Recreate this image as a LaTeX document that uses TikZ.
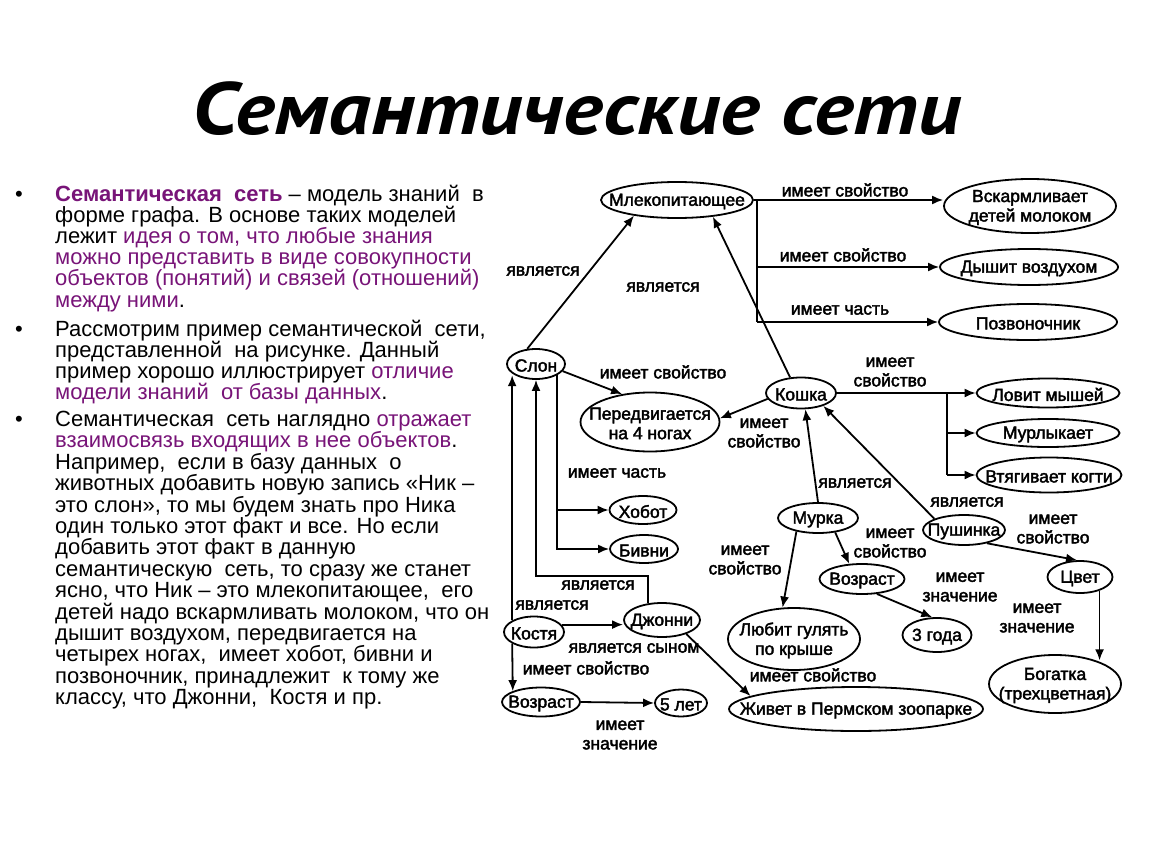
\documentclass[tikz,border=0pt]{standalone}
\usepackage{fontspec}
\setmainfont{Liberation Sans}
\newfontfamily\mytitlefont{PT Sans}
\newfontfamily\mydiagfont{Liberation Sans}[FakeBold=2.2]
\usetikzlibrary{shapes.geometric,arrows.meta,calc}
\definecolor{purp}{RGB}{120,20,120}
\newcommand{\mydiag}{\mydiagfont\fontsize{17.5}{19.5}\selectfont}
\newcommand{\mybody}{\fontsize{22}{21.4}\selectfont}
\begin{document}
\begin{tikzpicture}[x=1pt,y=-1pt,
  el/.style 2 args={draw,ellipse,line width=1.8pt,inner sep=0pt,minimum width=#1,minimum height=#2},
  lt/.style={font=\mydiag,align=center,inner sep=0pt,yshift=-1.5pt},
  lbl/.style={font=\mydiag,align=center,inner sep=0pt},
  con/.style={line width=1.8pt},
  arr/.style={con,-{Latex[length=11pt,width=9pt]}},
  ln/.style={anchor=base west,inner sep=0pt,font=\mybody},
  bul/.style={anchor=base west,inner sep=0pt,font=\mybody}]
\useasboundingbox[fill=white] (0,0) rectangle (1150,864);

% title
\node[anchor=base,inner sep=0pt,font={\mytitlefont\bfseries\itshape\fontsize{74}{74}\selectfont}] (title) at (577,135) {\scalebox{1.14}[1]{Семантические сети}};

% text paragraph 1
\node[bul] (b1) at (15,201) {•};
\node[ln] (t1) at (55,201) {\textcolor{purp}{\textbf{Семантическая\ \ сеть}} – модель знаний\ \ в};
\node[ln] (t2) at (55,222.2) {форме графа. В основе таких моделей};
\node[ln] (t3) at (55,243.4) {лежит \textcolor{purp}{идея о том, что любые знания}};
\node[ln] (t4) at (55,264.6) {\textcolor{purp}{можно представить в виде совокупности}};
\node[ln] (t5) at (55,285.8) {\textcolor{purp}{объектов (понятий) и связей (отношений)}};
\node[ln] (t6) at (55,307) {\textcolor{purp}{между ними}.};
% paragraph 2
\node[bul] (b2) at (15,336) {•};
\node[ln] (u1) at (55,336) {Рассмотрим пример семантической\ \ сети,};
\node[ln] (u2) at (55,357) {представленной\ \ на рисунке. Данный};
\node[ln] (u3) at (55,378) {пример хорошо иллюстрирует \textcolor{purp}{отличие}};
\node[ln] (u4) at (55,399) {\textcolor{purp}{модели знаний\ \ от базы данных}.};
% paragraph 3
\node[bul] (b3) at (15,426.5) {•};
\node[ln] (v1) at (55,426.5) {Семантическая\ \ сеть наглядно \textcolor{purp}{отражает}};
\node[ln] (v2) at (55,447.9) {\textcolor{purp}{взаимосвязь входящих в нее объектов}.};
\node[ln] (v3) at (55,469.3) {Например,\ \ если в базу данных\ \ о};
\node[ln] (v4) at (55,490.7) {животных добавить новую запись «Ник –};
\node[ln] (v5) at (55,512.1) {это слон», то мы будем знать про Ника};
\node[ln] (v6) at (55,533.5) {один только этот факт и все. Но если};
\node[ln] (v7) at (55,554.9) {добавить этот факт в данную};
\node[ln] (v8) at (55,576.3) {семантическую\ \ сеть, то сразу же станет};
\node[ln] (v9) at (55,597.7) {ясно, что Ник – это млекопитающее,\ \ его};
\node[ln] (v10) at (55,619.1) {детей надо вскармливать молоком, что он};
\node[ln] (v11) at (55,640.5) {дышит воздухом, передвигается на};
\node[ln] (v12) at (55,661.9) {четырех ногах,\ \ имеет хобот, бивни и};
\node[ln] (v13) at (55,683.3) {позвоночник, принадлежит\ \ к тому же};
\node[ln] (v14) at (55,704.7) {классу, что Джонни,\ \ Костя и пр.};

% diagram nodes (ellipses with their text as centred labels)
\node[el={152pt}{36pt},label={[lt]center:Млекопитающее}] (mlek) at (677,200) {};
\node[el={172pt}{54pt},label={[lt]center:Вскармливает\\детей молоком}] (vsk) at (1030,206) {};
\node[el={178pt}{36pt},label={[lt]center:Дышит воздухом}] (dysh) at (1029,267) {};
\node[el={178pt}{36pt},label={[lt]center:Позвоночник}] (pozv) at (1028,322) {};
\node[el={58pt}{30pt},label={[lt]center:Слон}] (slon) at (536,364) {};
\node[el={139pt}{59pt},label={[lt]center:Передвигается\\на 4 ногах}] (pered) at (650,422) {};
\node[el={70pt}{31pt},label={[lt]center:Кошка}] (koshka) at (801,393) {};
\node[el={143pt}{29pt},label={[lt]center:Ловит мышей}] (lovit) at (1048,393) {};
\node[el={143pt}{28pt},label={[lt]center:Мурлыкает}] (murl) at (1048,433) {};
\node[el={145pt}{35pt},label={[lt]center:Втягивает когти}] (vtyag) at (1049,475) {};
\node[el={67pt}{28pt},label={[lt]center:Хобот}] (hobot) at (643,510) {};
\node[el={68pt}{28pt},label={[lt]center:Бивни}] (bivni) at (644,549) {};
\node[el={80pt}{30pt},label={[lt]center:Мурка}] (murka) at (818,518) {};
\node[el={82pt}{30pt},label={[lt]center:Пушинка}] (push) at (964,530) {};
\node[el={85pt}{30pt},label={[lt]center:Возраст}] (vozr2) at (862,579) {};
\node[el={65pt}{32pt},label={[lt]center:Цвет}] (cvet) at (1080,577) {};
\node[el={69pt}{34pt},label={[lt]center:3 года}] (tri) at (937,635) {};
\node[el={132pt}{62pt},label={[lt]center:Любит гулять\\по крыше}] (lyub) at (794,639) {};
\node[el={132pt}{58pt},label={[lt]center:Богатка\\(трехцветная)}] (bog) at (1055,684) {};
\node[el={76pt}{34pt},label={[lt]center:Джонни}] (dzh) at (662,620) {};
\node[el={60pt}{31pt},label={[lt]center:Костя}] (kost) at (534,632) {};
\node[el={78pt}{29pt},label={[lt]center:Возраст}] (vozr1) at (541,702) {};
\node[el={52pt}{27pt},label={[lt]center:5 лет}] (pyat) at (681,703) {};
\node[el={254pt}{44pt},label={[lt]center:Живет в Пермском зоопарке}] (zhiv) at (856,709) {};

% connectors: Млекопитающее
\draw[arr] (mlek.east) -- (mlek.east -| vsk.west);
\coordinate (mb) at ($(mlek.east)+(3,0)$);
\draw[con] (mb) -- (mb |- pozv.west);
\draw[arr] (mb |- dysh.west) -- (dysh.west);
\draw[arr] (mb |- pozv.west) -- (pozv.west);
\draw[arr] (slon.120) -- (mlek.200);
\draw[arr] (koshka.125) -- (mlek.335);
% Слон
\draw[arr] (slon.-15) -- (pered.135);
\draw[arr] (slon.south east) -- (slon.south east |- bivni.west) -- (bivni.west);
\draw[arr] (slon.south east |- hobot.west) -- (hobot.west);
% Кошка
\draw[arr] (koshka.190) -- (pered.3);
\draw[arr] (koshka.east) -- (koshka.east -| lovit.west);
\coordinate (kb) at ($(lovit.west)+(-29,0)$);
\draw[con] (kb) -- (kb |- vtyag.west);
\draw[arr] (kb |- murl.west) -- (murl.west);
\draw[arr] (kb |- vtyag.west) -- (vtyag.west);
% Джонни, Костя
\coordinate (jt) at ($(dzh.130)+(0,-27)$);
\draw[arr] (dzh.130) -- (jt) -| (slon.south);
\draw[arr] (kost.north west) -- (kost.north west |- slon.south west);
\draw[arr] (kost.15) -- (kost.15 -| dzh.west);
\draw[arr] (kost.south west) -- (vozr1.north west);
\draw[arr] (vozr1.east) -- (pyat.west);
\draw[arr] (dzh.-30) -- (zhiv.173);
% Мурка, Пушинка
\draw[arr] (murka.north) -- (koshka.-75);
\draw[arr] (push.north west) -- (koshka.-30);
\draw[arr] (murka.-40) -- (vozr2.130);
\draw[arr] (murka.-148) -- (lyub.110);
\draw[arr] (vozr2.-45) -- (tri.105);
\draw[arr] (push.-30) -- (cvet.100);
\draw[arr] (cvet.-35) -- (cvet.-35 |- bog.30);

% labels
\node[lbl] (l1) at (845,190) {имеет свойство};
\node[lbl] (l2) at (843,255) {имеет свойство};
\node[lbl] (l3) at (840,310) {имеет часть};
\node[lbl] (l4) at (543,271) {является};
\node[lbl] (l5) at (663,287) {является};
\node[lbl] (l6) at (663,372) {имеет свойство};
\node[lbl] (l7) at (764,433) {имеет\\свойство};
\node[lbl] (l8) at (890,372) {имеет\\свойство};
\node[lbl] (l9) at (617,473) {имеет часть};
\node[lbl] (l10) at (598,585) {является};
\node[lbl] (l11) at (552,605) {является};
\node[lbl] (l12) at (634,648) {является сыном};
\node[lbl] (l13) at (586,668) {имеет свойство};
\node[lbl] (l14) at (620,735) {имеет\\значение};
\node[lbl] (l15) at (813,675) {имеет свойство};
\node[lbl] (l16) at (745,560) {имеет\\свойство};
\node[lbl] (l17) at (855,483) {является};
\node[lbl] (l18) at (967,502) {является};
\node[lbl] (l19) at (890,543) {имеет\\свойство};
\node[lbl] (l20) at (1053,529) {имеет\\свойство};
\node[lbl] (l21) at (960,587) {имеет\\значение};
\node[lbl] (l22) at (1037,618) {имеет\\значение};
\end{tikzpicture}
\end{document}
